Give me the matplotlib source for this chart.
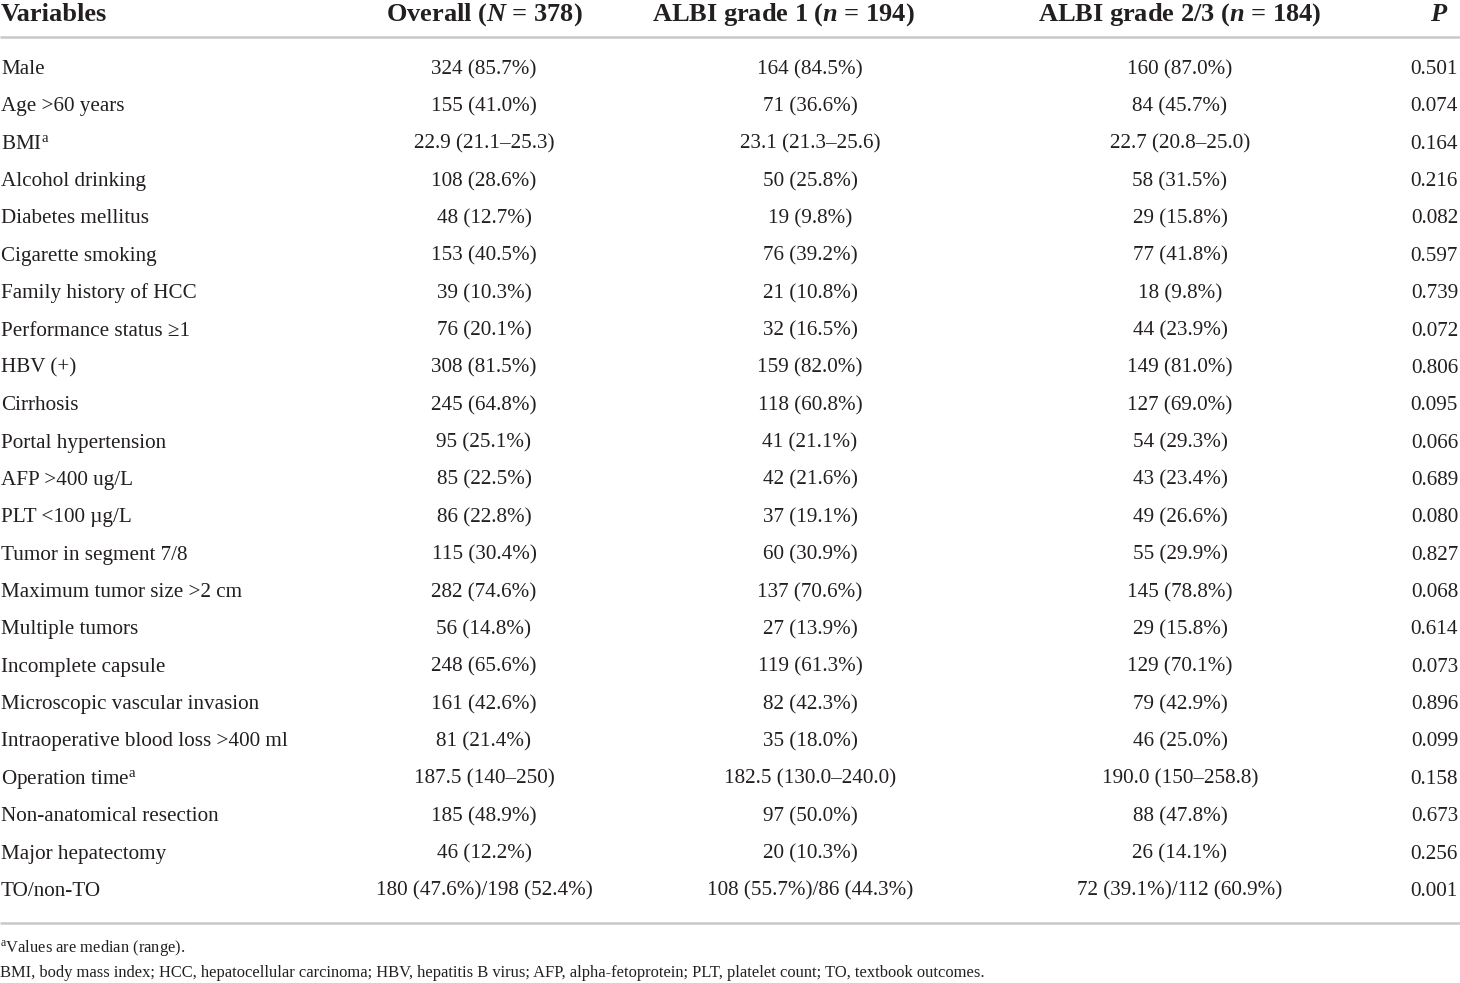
import matplotlib
matplotlib.use("Agg")
import matplotlib.pyplot as plt

plt.rcParams['font.family'] = ['Liberation Serif', 'DejaVu Serif']
plt.rcParams['mathtext.fontset'] = 'custom'
plt.rcParams['mathtext.rm'] = 'Liberation Serif'
plt.rcParams['mathtext.it'] = 'Liberation Serif:italic'
plt.rcParams['mathtext.bf'] = 'Liberation Serif:bold'
plt.rcParams['mathtext.bfit'] = 'Liberation Serif:italic:bold'

headers = ["Variables", r"Overall ($\mathbfit{N}$ = 378)", r"ALBI grade 1 ($\mathbfit{n}$ = 194)",
           r"ALBI grade 2/3 ($\mathbfit{n}$ = 184)", "P"]

variables = ["Male", "Age >60 years", r"BMI$^{\mathrm{a}}$", "Alcohol drinking", "Diabetes mellitus",
             "Cigarette smoking", "Family history of HCC", "Performance status \u22651", "HBV (+)",
             "Cirrhosis", "Portal hypertension", "AFP >400 ug/L", "PLT <100 \u00b5g/L",
             "Tumor in segment 7/8", "Maximum tumor size >2 cm", "Multiple tumors",
             "Incomplete capsule", "Microscopic vascular invasion",
             "Intraoperative blood loss >400 ml", r"Operation time$^{\mathrm{a}}$",
             "Non-anatomical resection", "Major hepatectomy", "TO/non-TO"]

overall = ["324 (85.7%)", "155 (41.0%)", "22.9 (21.1\u201325.3)", "108 (28.6%)", "48 (12.7%)",
           "153 (40.5%)", "39 (10.3%)", "76 (20.1%)", "308 (81.5%)", "245 (64.8%)", "95 (25.1%)",
           "85 (22.5%)", "86 (22.8%)", "115 (30.4%)", "282 (74.6%)", "56 (14.8%)", "248 (65.6%)",
           "161 (42.6%)", "81 (21.4%)", "187.5 (140\u2013250)", "185 (48.9%)", "46 (12.2%)",
           "180 (47.6%)/198 (52.4%)"]

grade1 = ["164 (84.5%)", "71 (36.6%)", "23.1 (21.3\u201325.6)", "50 (25.8%)", "19 (9.8%)",
          "76 (39.2%)", "21 (10.8%)", "32 (16.5%)", "159 (82.0%)", "118 (60.8%)", "41 (21.1%)",
          "42 (21.6%)", "37 (19.1%)", "60 (30.9%)", "137 (70.6%)", "27 (13.9%)", "119 (61.3%)",
          "82 (42.3%)", "35 (18.0%)", "182.5 (130.0\u2013240.0)", "97 (50.0%)", "20 (10.3%)",
          "108 (55.7%)/86 (44.3%)"]

grade23 = ["160 (87.0%)", "84 (45.7%)", "22.7 (20.8\u201325.0)", "58 (31.5%)", "29 (15.8%)",
           "77 (41.8%)", "18 (9.8%)", "44 (23.9%)", "149 (81.0%)", "127 (69.0%)", "54 (29.3%)",
           "43 (23.4%)", "49 (26.6%)", "55 (29.9%)", "145 (78.8%)", "29 (15.8%)", "129 (70.1%)",
           "79 (42.9%)", "46 (25.0%)", "190.0 (150\u2013258.8)", "88 (47.8%)", "26 (14.1%)",
           "72 (39.1%)/112 (60.9%)"]

pvalues = ["0.501", "0.074", "0.164", "0.216", "0.082", "0.597", "0.739", "0.072", "0.806",
           "0.095", "0.066", "0.689", "0.080", "0.827", "0.068", "0.614", "0.073", "0.896",
           "0.099", "0.158", "0.673", "0.256", "0.001"]

footnotes = [r"$^{\mathrm{a}}$Values are median (range).",
             "BMI, body mass index; HCC, hepatocellular carcinoma; HBV, hepatitis B virus; "
             "AFP, alpha-fetoprotein; PLT, platelet count; TO, textbook outcomes."]

W, H = 1460, 983
fig = plt.figure(figsize=(W / 100, H / 100), dpi=100)
ax = fig.add_axes([0, 0, 1, 1])
ax.set_xlim(0, W)
ax.set_ylim(H, 0)
ax.axis('off')

txt = '#231f20'
hsize = 19
bsize = 15.2
fsize = 11.9

# header row
hy = 21
ax.text(1, hy, headers[0], fontsize=hsize, fontweight='bold', ha='left', va='baseline', color=txt)
ax.text(484, hy, headers[1], fontsize=hsize, fontweight='bold', ha='center', va='baseline', color=txt)
ax.text(783, hy, headers[2], fontsize=hsize, fontweight='bold', ha='center', va='baseline', color=txt)
ax.text(1180, hy, headers[3], fontsize=hsize, fontweight='bold', ha='center', va='baseline', color=txt)
ax.text(1446, hy, headers[4], fontsize=hsize, fontweight='bold', style='italic',
        ha='right', va='baseline', color=txt)

ax.plot([0, W], [36.5, 36.5], color='#c8c8c8', lw=1.8, solid_capstyle='butt')

y0, dy = 74, 37.36
for i in range(len(variables)):
    y = y0 + i * dy
    ax.text(1, y, variables[i], fontsize=bsize, ha='left', va='baseline', color=txt)
    ax.text(484, y, overall[i], fontsize=bsize, ha='center', va='baseline', color=txt)
    ax.text(810, y, grade1[i], fontsize=bsize, ha='center', va='baseline', color=txt)
    ax.text(1180, y, grade23[i], fontsize=bsize, ha='center', va='baseline', color=txt)
    ax.text(1458, y, pvalues[i], fontsize=bsize, ha='right', va='baseline', color=txt)

ax.plot([0, W], [922.5, 922.5], color='#c8c8c8', lw=1.8, solid_capstyle='butt')

ax.text(0, 952, footnotes[0], fontsize=fsize, ha='left', va='baseline', color=txt)
ax.text(0, 977, footnotes[1], fontsize=fsize, ha='left', va='baseline', color=txt)

fig.savefig('out.png', dpi=100, facecolor='white')
